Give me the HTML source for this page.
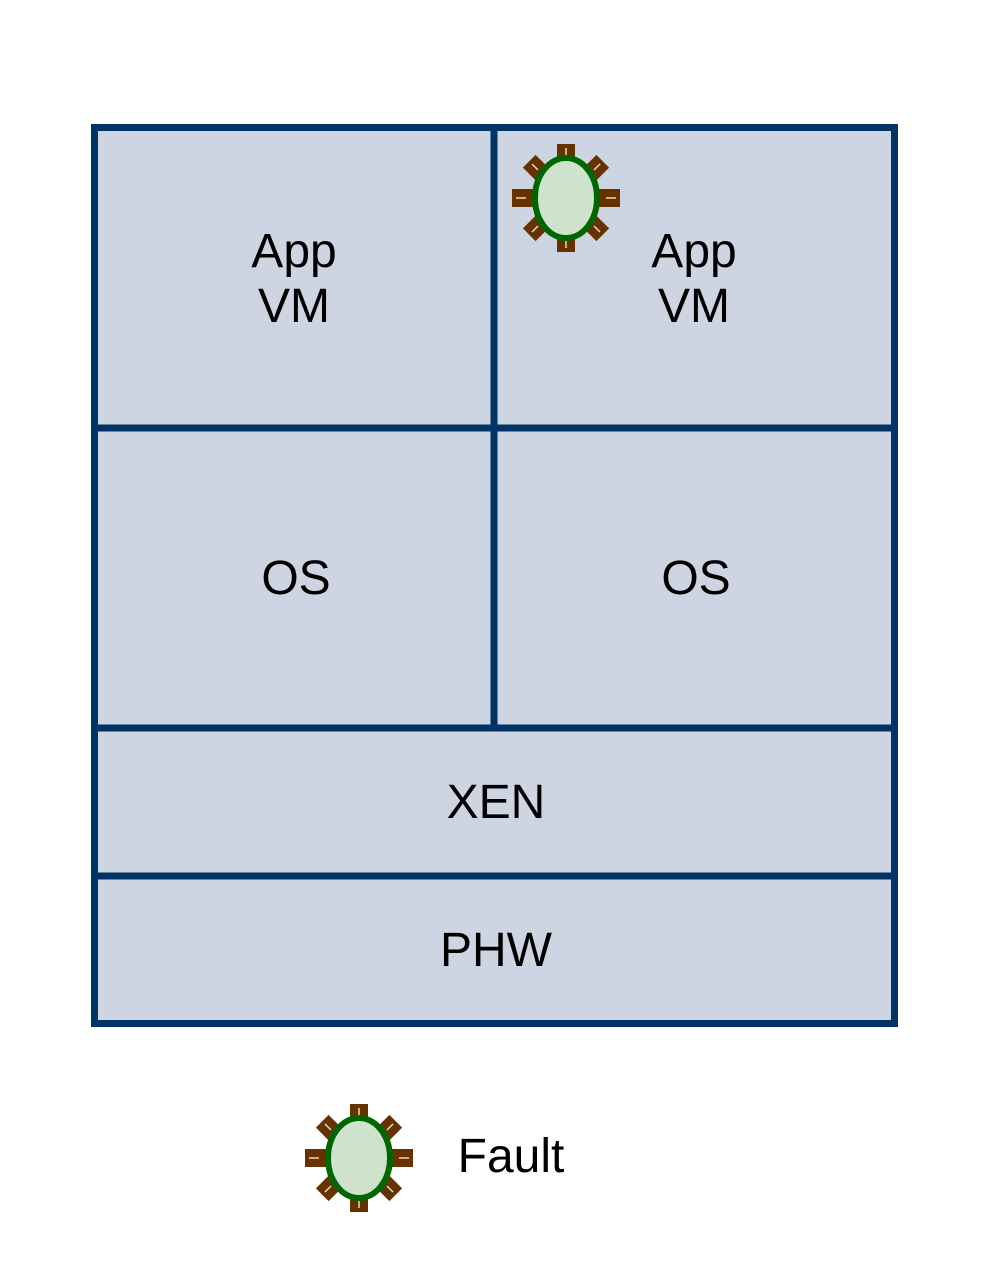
<!DOCTYPE html>
<html><head><style>
html,body{margin:0;padding:0;background:#fff;}
</style></head><body>
<svg width="992" height="1264" viewBox="0 0 992 1264" xmlns="http://www.w3.org/2000/svg">
<defs>
<g id="fault">
  <g fill="#663300">
    <rect x="-54" y="-9" width="108" height="18"/>
    <rect x="-9" y="-54" width="18" height="108"/>
    <rect x="-52" y="-9" width="104" height="18" transform="rotate(45)"/>
    <rect x="-52" y="-9" width="104" height="18" transform="rotate(-45)"/>
  </g>
  <g stroke="#e8d8c0" stroke-width="1.5">
    <line x1="-50" y1="0" x2="-40" y2="0"/>
    <line x1="40" y1="0" x2="50" y2="0"/>
    <line x1="0" y1="-50" x2="0" y2="-42"/>
    <line x1="0" y1="42" x2="0" y2="50"/>
    <line x1="-34" y1="-34" x2="-28" y2="-28"/>
    <line x1="34" y1="-34" x2="28" y2="-28"/>
    <line x1="-34" y1="34" x2="-28" y2="28"/>
    <line x1="34" y1="34" x2="28" y2="28"/>
  </g>
  <ellipse cx="0" cy="0" rx="31" ry="40" fill="#cfe2cc" stroke="#006600" stroke-width="6"/>
</g>
</defs>
<rect x="94.5" y="127.5" width="800" height="896" fill="#cdd5e2" stroke="#003366" stroke-width="7"/>
<g stroke="#003366" stroke-width="7">
  <line x1="494" y1="127" x2="494" y2="728"/>
  <line x1="94" y1="428" x2="895" y2="428"/>
  <line x1="94" y1="728" x2="895" y2="728"/>
  <line x1="94" y1="876" x2="895" y2="876"/>
</g>
<g font-family="Liberation Sans, sans-serif" font-size="48" fill="#000" text-anchor="middle">
  <text x="294" y="267">App</text>
  <text x="294" y="322">VM</text>
  <text x="694" y="267">App</text>
  <text x="694" y="322">VM</text>
  <text x="296" y="594">OS</text>
  <text x="696" y="594">OS</text>
  <text x="496" y="818">XEN</text>
  <text x="496" y="966">PHW</text>
  <text x="511" y="1172">Fault</text>
</g>
<use href="#fault" transform="translate(566,198)"/>
<use href="#fault" transform="translate(359,1158)"/>
</svg>
</body></html>
